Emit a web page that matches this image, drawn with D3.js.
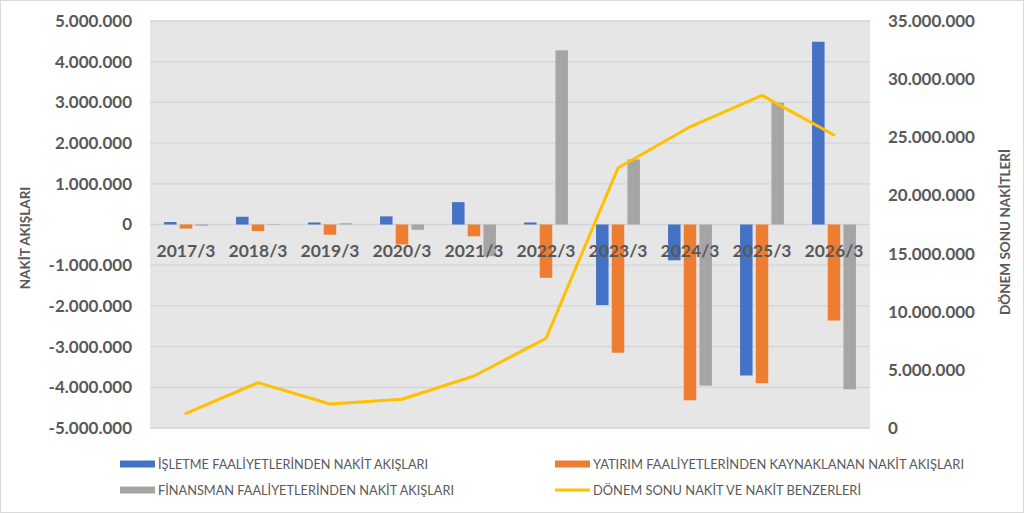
<!DOCTYPE html>
<html>
<head>
<meta charset="utf-8">
<script src="https://cdn.jsdelivr.net/npm/d3@7"></script>
<style>
  body { margin: 0; background: #fff; }
  svg { display: block; font-family: Lato, "Open Sans", sans-serif; }
</style>
</head>
<body>
<svg id="chart" width="1024" height="513"></svg>
<script>
// data
const categories = ['2017/3', '2018/3', '2019/3', '2020/3', '2021/3', '2022/3', '2023/3', '2024/3', '2025/3', '2026/3'];
const isletme = [60000, 190000, 50000, 200000, 550000, 50000, -1980000, -880000, -3710000, 4490000];
const yatirim = [-100000, -160000, -250000, -490000, -290000, -1310000, -3150000, -4320000, -3900000, -2360000];
const finansman = [-30000, -10000, 30000, -130000, -780000, 4280000, 1600000, -3960000, 2990000, -4050000];
const donemSonu = [1260000, 3900000, 2060000, 2470000, 4470000, 7710000, 22360000, 25900000, 28600000, 25200000];

const leftTicks = d3.range(-5000000, 5000001, 1000000);
const rightTicks = d3.range(0, 35000001, 5000000);

const seriesNames = [
  'İŞLETME FAALİYETLERİNDEN NAKİT AKIŞLARI',
  'YATIRIM FAALİYETLERİNDEN KAYNAKLANAN NAKİT AKIŞLARI',
  'FİNANSMAN FAALİYETLERİNDEN NAKİT AKIŞLARI',
  'DÖNEM SONU NAKİT VE NAKİT BENZERLERİ'
];
const colors = ['#4472C4', '#ED7D31', '#A5A5A5', '#FFC000'];

// plot area
const plot = { left: 150, right: 870, top: 21, bottom: 428 };

const svg = d3.select('#chart');

// outer border
svg.append('rect')
  .attr('x', 0.5).attr('y', 0.5)
  .attr('width', 1023).attr('height', 512)
  .attr('fill', '#fff').attr('stroke', '#d9d9d9');

const locale = d3.formatLocale({ decimal: ',', thousands: '.', grouping: [3], currency: ['', ''], minus: '-' });
const fmt = locale.format(',.0f');

const x = d3.scaleBand().domain(categories).range([plot.left, plot.right]);
const y = d3.scaleLinear().domain([-5000000, 5000000]).range([plot.bottom, plot.top]);
const y2 = d3.scaleLinear().domain([0, 35000000]).range([plot.bottom, plot.top]);

// plot background
svg.append('rect')
  .attr('x', plot.left).attr('y', plot.top)
  .attr('width', plot.right - plot.left).attr('height', plot.bottom - plot.top)
  .attr('fill', '#e6e6e6');

// gridlines
svg.append('g')
  .selectAll('line')
  .data(leftTicks)
  .enter()
  .append('line')
  .attr('x1', plot.left).attr('x2', plot.right)
  .attr('y1', d => y(d)).attr('y2', d => y(d))
  .attr('stroke', '#d4d4d4')
  .attr('stroke-width', 1.3);

// left axis
const leftAxis = svg.append('g')
  .attr('transform', 'translate(' + (plot.left - 10) + ',0)')
  .call(d3.axisLeft(y).tickValues(leftTicks).tickFormat(fmt).tickSize(0).tickPadding(8));
leftAxis.select('.domain').remove();
leftAxis.selectAll('text')
  .attr('fill', '#595959')
  .style('font-size', '17px')
  .style('font-weight', 'bold')
  .style('font-family', 'Lato, sans-serif');

// right axis
const rightAxis = svg.append('g')
  .attr('transform', 'translate(' + (plot.right + 10) + ',0)')
  .call(d3.axisRight(y2).tickValues(rightTicks).tickFormat(fmt).tickSize(0).tickPadding(8));
rightAxis.select('.domain').remove();
rightAxis.selectAll('text')
  .attr('fill', '#595959')
  .style('font-size', '17px')
  .style('font-weight', 'bold')
  .style('font-family', 'Lato, sans-serif');

// bars
const barW = 12.5;
const step = 15.7;
const barSeries = [isletme, yatirim, finansman];
barSeries.forEach((values, i) => {
  svg.append('g')
    .selectAll('rect')
    .data(values)
    .enter()
    .append('rect')
    .attr('x', (d, j) => x(categories[j]) + x.bandwidth() / 2 + (i - 1) * step - barW / 2)
    .attr('y', d => Math.min(y(d), y(0)))
    .attr('width', barW)
    .attr('height', d => Math.abs(y(d) - y(0)))
    .attr('fill', colors[i]);
});

// category labels, sitting just under the zero line
svg.append('g')
  .selectAll('text')
  .data(categories)
  .enter()
  .append('text')
  .attr('x', d => x(d) + x.bandwidth() / 2)
  .attr('y', y(0) + 32)
  .attr('text-anchor', 'middle')
  .attr('fill', '#595959')
  .style('font-size', '17.5px')
  .style('font-weight', 'bold')
  .text(d => d);

// line on secondary axis
const line = d3.line()
  .x((d, j) => x(categories[j]) + x.bandwidth() / 2)
  .y(d => y2(d));
svg.append('path')
  .datum(donemSonu)
  .attr('d', line)
  .attr('fill', 'none')
  .attr('stroke', colors[3])
  .attr('stroke-width', 3)
  .attr('stroke-linejoin', 'round')
  .attr('stroke-linecap', 'round');

// axis titles
svg.append('text')
  .attr('transform', 'translate(30,238) rotate(-90)')
  .attr('text-anchor', 'middle')
  .attr('fill', '#595959')
  .style('font-size', '13.5px')
  .style('font-weight', 'bold')
  .text('NAKİT AKIŞLARI');

svg.append('text')
  .attr('transform', 'translate(1010,232) rotate(-90)')
  .attr('text-anchor', 'middle')
  .attr('fill', '#595959')
  .style('font-size', '13.5px')
  .style('font-weight', 'bold')
  .text('DÖNEM SONU NAKİTLERİ');

// legend
const legendPos = [
  { x: 120, y: 464, w: 270 },
  { x: 555, y: 464, w: 371 },
  { x: 120, y: 490, w: 296 },
  { x: 555, y: 490, w: 268 }
];
const legend = svg.append('g');
seriesNames.forEach((name, i) => {
  const p = legendPos[i];
  if (i < 3) {
    legend.append('rect')
      .attr('x', p.x).attr('y', p.y - 3.5)
      .attr('width', 35).attr('height', 7)
      .attr('fill', colors[i]);
  } else {
    legend.append('line')
      .attr('x1', p.x).attr('x2', p.x + 35)
      .attr('y1', p.y).attr('y2', p.y)
      .attr('stroke', colors[i])
      .attr('stroke-width', 3);
  }
  legend.append('text')
    .attr('x', p.x + 38)
    .attr('y', p.y + 4.5)
    .attr('fill', '#595959')
    .attr('textLength', p.w)
    .attr('lengthAdjust', 'spacingAndGlyphs')
    .style('font-size', '12.5px')
    .text(name);
});
</script>
</body>
</html>
